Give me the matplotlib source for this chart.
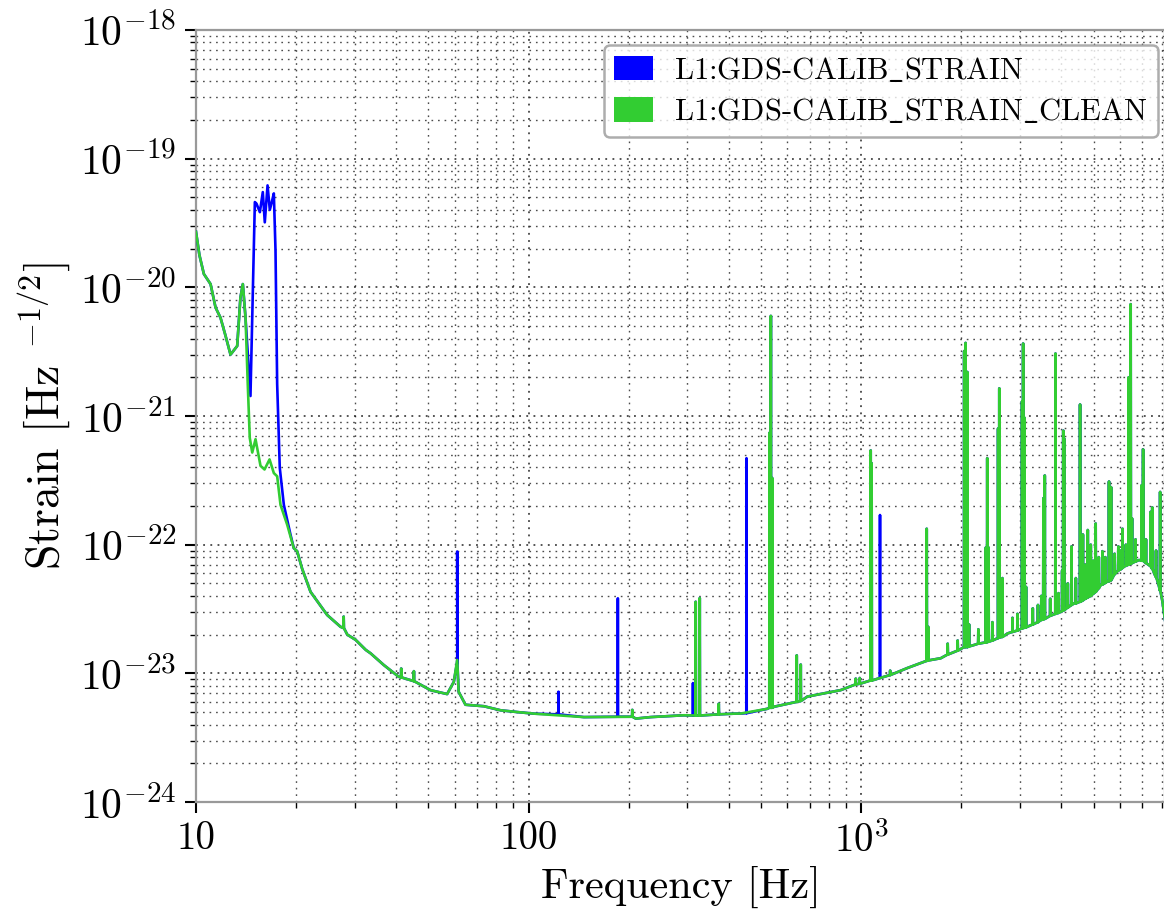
import numpy as np
import matplotlib
matplotlib.use('Agg')
import matplotlib.pyplot as plt
from matplotlib.patches import Patch
from matplotlib.ticker import FixedLocator, FuncFormatter, LogLocator, NullFormatter

plt.rcParams['font.family'] = 'cmr10'
plt.rcParams['mathtext.fontset'] = 'cm'
plt.rcParams['axes.unicode_minus'] = False
plt.rcParams['axes.formatter.use_mathtext'] = True

# broadband noise floor of the cleaned channel (Hz, strain/rtHz)
base_f = [10.0, 10.24, 10.56, 11.06, 11.45, 11.85, 12.27, 12.7, 13.3, 13.6,
          13.83, 14.09, 14.31, 14.51, 14.76, 15.1, 15.63, 16.07, 16.64, 17.14,
          17.54, 17.95, 18.8, 19.68, 20.14, 20.85, 22.1, 23.4, 24.8, 27.2,
          28.5, 30.2, 32.4, 33.5, 36.7, 40.7, 50.7, 56.9, 59.6, 61.0,
          61.6, 64.6, 73.4, 82.4, 92.5, 103.8, 146.6, 210.0, 232.8, 293.0,
          414.0, 434.0, 522.0, 547.0, 689.0, 867.0, 1093.0, 1377.0, 1734.0, 2183.0,
          2752.0, 3467.0, 4366.0, 4571.0, 5250.0, 5502.0, 5890.0, 6170.0, 6500.0, 6846.0,
          7300.0, 7600.0, 7850.0, 8050.0, 8192.0]
base_a = [2.7e-20, 1.78e-20, 1.27e-20, 1.06e-20, 6.97e-21, 5.8e-21, 4.2e-21, 3.0e-21, 3.5e-21, 8.3e-21,
          1.06e-20, 5.8e-21, 1.76e-21, 6.76e-22, 5.2e-22, 6.6e-22, 4.1e-22, 3.84e-22, 4.6e-22, 3.6e-22,
          3.4e-22, 2.04e-22, 1.43e-22, 9.4e-23, 8.9e-23, 6.5e-23, 4.3e-23, 3.5e-23, 2.84e-23, 2.3e-23,
          2.0e-23, 1.82e-23, 1.52e-23, 1.43e-23, 1.16e-23, 9.4e-24, 7.4e-24, 6.9e-24, 8.6e-24, 1.27e-23,
          7.2e-24, 5.7e-24, 5.55e-24, 5.16e-24, 5.0e-24, 4.86e-24, 4.57e-24, 4.45e-24, 4.57e-24, 4.72e-24,
          4.86e-24, 4.87e-24, 5.3e-24, 5.5e-24, 6.6e-24, 7.4e-24, 8.9e-24, 1.1e-23, 1.31e-23, 1.66e-23,
          2.04e-23, 2.6e-23, 3.5e-23, 3.6e-23, 4.86e-23, 5.2e-23, 6.2e-23, 6.76e-23, 7.2e-23, 7.6e-23,
          7.0e-23, 6.0e-23, 4.8e-23, 3.6e-23, 2.6e-23]

# narrow lines in both channels: (frequency, floor, peak)
clean_lines = [
    (27.8, 2.25e-23, 2.76e-23), (41.4, 9.3e-24, 1.09e-23), (45.2, 8.7e-24, 1.04e-23),
    (205, 4.6e-24, 5.2e-24), (318, 4.7e-24, 3.6e-23), (327, 4.7e-24, 3.85e-23),
    (373, 4.8e-24, 5.8e-24), (530, 5.4e-24, 7.4e-22), (535, 5.4e-24, 6.0e-21),
    (540, 5.4e-24, 3.3e-22), (640, 6.0e-24, 1.38e-23), (658, 6.1e-24, 1.17e-23),
    (963, 8.2e-24, 9.1e-24), (990, 8.3e-24, 9.2e-24), (1068, 8.8e-24, 5.4e-22),
    (1075, 8.8e-24, 4.3e-22), (1222, 9.7e-24, 1.05e-23), (1574, 1.25e-23, 1.33e-22),
    (1590, 1.26e-23, 2.3e-23), (1820, 1.4e-23, 1.7e-23), (1950, 1.5e-23, 1.8e-23),
    (2040, 1.6e-23, 3.2e-21), (2060, 1.6e-23, 3.7e-21), (2085, 1.6e-23, 2.2e-21),
    (2110, 1.62e-23, 2.4e-23), (2250, 1.7e-23, 2.2e-23), (2370, 1.74e-23, 9.5e-23),
    (2393, 1.75e-23, 4.7e-22), (2415, 1.76e-23, 9.5e-23), (2480, 1.8e-23, 2.5e-23),
    (2580, 1.88e-23, 8.0e-22), (2601, 1.9e-23, 1.64e-21), (2658, 1.92e-23, 5.5e-23),
    (2850, 2.1e-23, 2.7e-23), (2950, 2.15e-23, 2.9e-23), (3045, 2.24e-23, 1.3e-21),
    (3068, 2.25e-23, 3.66e-21), (3095, 2.26e-23, 9.7e-22), (3130, 2.28e-23, 4.7e-23),
    (3280, 2.4e-23, 3.2e-23), (3400, 2.5e-23, 3.4e-23), (3480, 2.6e-23, 4.0e-23),
    (3530, 2.63e-23, 2.3e-22), (3564, 2.65e-23, 3.45e-22), (3700, 2.8e-23, 3.8e-23),
    (3838, 2.9e-23, 3.06e-21), (3920, 2.95e-23, 4.2e-23), (4020, 3.05e-23, 6.3e-23),
    (4050, 3.1e-23, 7.7e-22), (4075, 3.1e-23, 6.7e-22), (4180, 3.25e-23, 5.0e-23),
    (4290, 3.4e-23, 9.7e-23), (4420, 3.5e-23, 5.5e-23), (4550, 3.6e-23, 1.23e-21),
    (4640, 3.7e-23, 1.2e-22), (4720, 3.8e-23, 7.0e-23), (4800, 3.9e-23, 1.3e-22),
    (4900, 4.0e-23, 1.0e-22), (4980, 4.15e-23, 7.5e-23), (5070, 4.3e-23, 1.46e-22),
    (5180, 4.6e-23, 8.0e-23), (5310, 4.9e-23, 8.9e-23), (5420, 5.05e-23, 8.0e-23),
    (5560, 5.2e-23, 3.1e-22), (5640, 5.3e-23, 2.8e-22), (5780, 5.9e-23, 8.5e-23),
    (5930, 6.3e-23, 9.7e-23), (6030, 6.45e-23, 9.0e-23), (6105, 6.6e-23, 1.33e-22),
    (6250, 6.85e-23, 1.0e-22), (6370, 7.0e-23, 2.0e-21), (6460, 7.1e-23, 7.4e-21),
    (6520, 7.2e-23, 1.6e-22), (6680, 7.4e-23, 1.1e-22), (6970, 7.5e-23, 2.9e-22),
    (7040, 7.5e-23, 5.5e-22), (7180, 7.2e-23, 1.1e-22), (7418, 6.8e-23, 1.8e-22),
    (7500, 6.5e-23, 1.95e-22), (7700, 5.6e-23, 9.0e-23), (7920, 4.4e-23, 2.57e-22),
]

# lines removed by the cleaning (only in raw channel)
raw_lines = [
    (61.0, 1.2e-23, 8.85e-23), (123, 4.8e-24, 7.2e-24), (185.5, 4.6e-24, 3.83e-23),
    (312, 4.7e-24, 8.4e-24), (452, 4.9e-24, 4.7e-22), (1139, 9.2e-24, 1.7e-22),
]

# low-frequency hump of the raw channel, 14-20 Hz
hump_f = [13.83, 14.09, 14.58, 15.03, 15.2, 15.56, 15.88, 16.1, 16.41, 16.67,
          16.9, 17.14, 17.34, 17.54, 17.86, 18.37, 19.23, 19.68]
hump_a = [1.06e-20, 5.8e-21, 1.43e-21, 4.6e-20, 4.47e-20, 3.84e-20, 5.5e-20, 3.2e-20, 6.2e-20, 4.0e-20,
          4.6e-20, 5.37e-20, 1.94e-20, 1.77e-21, 3.95e-22, 2.04e-22, 1.2e-22, 9.4e-23]

y_ticks = [1e-24, 1e-23, 1e-22, 1e-21, 1e-20, 1e-19, 1e-18]
x_ticks = [10, 100, 1000]
x_ticklabels = ['10', '100', r'$10^3$']


def with_lines(f, a, lines):
    f = list(f)
    a = list(a)
    for lf, lb, lp in lines:
        f += [lf * 0.9985, lf, lf * 1.0015]
        a += [lb, lp, lb]
    order = np.argsort(f, kind='stable')
    return np.array(f)[order], np.array(a)[order]


clean_f, clean_a = with_lines(base_f, base_a, clean_lines)

raw_base_f = [x for x in base_f if x < hump_f[0] or x > hump_f[-1]] + hump_f
raw_base_a = [y for x, y in zip(base_f, base_a) if x < hump_f[0] or x > hump_f[-1]] + hump_a
raw_f, raw_a = with_lines(raw_base_f, raw_base_a, clean_lines + raw_lines)

fig = plt.figure(figsize=(11.64, 9.15), dpi=100)
ax = fig.add_axes([196 / 1164, 1 - 802 / 915, 969 / 1164, 772 / 915])

ax.plot(raw_f, raw_a, color='#0000ff', lw=1.9, zorder=3)
ax.plot(clean_f, clean_a, color='#32cd32', lw=1.9, zorder=4)

ax.set_xscale('log')
ax.set_yscale('log')
ax.set_xlim(10, 8192)
ax.set_ylim(1e-24, 1e-18)

ax.xaxis.set_major_locator(FixedLocator(x_ticks))
ax.xaxis.set_major_formatter(FuncFormatter(
    lambda v, p: dict(zip(x_ticks, x_ticklabels)).get(int(round(v)), '')))
ax.xaxis.set_minor_formatter(NullFormatter())
ax.yaxis.set_major_locator(FixedLocator(y_ticks))
ax.yaxis.set_minor_locator(LogLocator(base=10, subs=np.arange(2, 10), numticks=20))
ax.yaxis.set_minor_formatter(NullFormatter())

ax.grid(True, which='major', ls=(0, (1.2, 3.5)), color='k', lw=1.1, alpha=0.85)
ax.grid(True, which='minor', ls=(0, (1.2, 3.5)), color='k', lw=1.0, alpha=0.7)
ax.set_axisbelow(True)

for s in ax.spines.values():
    s.set_color('#999999')
    s.set_linewidth(1.6)

ax.tick_params(which='major', direction='out', length=8, width=1.5, pad=6)
ax.tick_params(axis='x', which='major', labelsize=28)
ax.tick_params(axis='y', which='major', labelsize=30)
ax.tick_params(which='minor', direction='out', length=4, width=1.0)

ax.set_xlabel('Frequency [Hz]', fontsize=30.5, labelpad=4)
ax.set_ylabel(r'Strain [Hz $^{-1/2}$]', fontsize=33, labelpad=6)

handles = [Patch(facecolor='#0000ff', edgecolor='none'),
           Patch(facecolor='#32cd32', edgecolor='none')]
labels = [r'L1:GDS-CALIB$\_$STRAIN', r'L1:GDS-CALIB$\_$STRAIN$\_$CLEAN']
leg = ax.legend(handles, labels, loc='upper right', fontsize=22,
                bbox_to_anchor=(1158 / 1164, 1 - 45 / 915), bbox_transform=fig.transFigure,
                borderaxespad=0, handlelength=1.25, handleheight=0.85,
                handletextpad=0.7, labelspacing=0.4, borderpad=0.35,
                fancybox=True, framealpha=0.8)
leg.get_frame().set_edgecolor('#999999')
leg.get_frame().set_linewidth(1.8)

fig.savefig('out.png', dpi=100)
